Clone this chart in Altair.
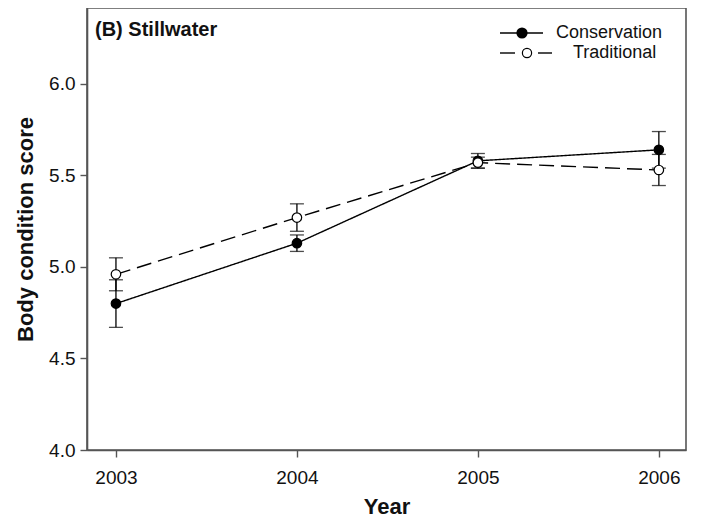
import altair as alt
import pandas as pd

years = [2003, 2004, 2005, 2006]
cons_mean = [4.80, 5.13, 5.58, 5.64]
cons_se = [0.13, 0.045, 0.04, 0.10]
trad_mean = [4.96, 5.27, 5.57, 5.53]
trad_se = [0.09, 0.075, 0.03, 0.085]
groups = ["Conservation", "Traditional"]
y_ticks = [4.0, 4.5, 5.0, 5.5, 6.0]
panel_label = ["(B) Stillwater"]

rows = []
for name, means, ses in [(groups[0], cons_mean, cons_se), (groups[1], trad_mean, trad_se)]:
    for yr, m, s in zip(years, means, ses):
        rows.append({"group": name, "year": yr, "mean": m, "lo": m - s, "hi": m + s})
df = pd.DataFrame(rows)

W, H = 599, 442
xs = alt.Scale(domain=[2002.84, 2006.15], nice=False, zero=False)
ys = alt.Scale(domain=[4.0, 6.415], nice=False, zero=False)

X = alt.X("year:Q", scale=xs,
          axis=alt.Axis(values=years, format="d", title="Year", labelPadding=11, titlePadding=9))
Y_axis = alt.Axis(values=y_ticks, format=".1f", title="Body condition score",
                  labelPadding=5, titlePadding=11)

base = alt.Chart(df)

err = base.mark_rule(color="black", strokeWidth=1.3).encode(
    x=X, y=alt.Y("lo:Q", scale=ys, axis=Y_axis), y2="hi:Q")
cap_lo = base.mark_tick(color="black", orient="horizontal", size=14, thickness=1.3).encode(
    x=X, y=alt.Y("lo:Q", scale=ys))
cap_hi = base.mark_tick(color="black", orient="horizontal", size=14, thickness=1.3).encode(
    x=X, y=alt.Y("hi:Q", scale=ys))

lines = base.mark_line(color="black", strokeWidth=1.4).encode(
    x=X, y=alt.Y("mean:Q", scale=ys),
    strokeDash=alt.StrokeDash("group:N", scale=alt.Scale(domain=groups, range=[[1, 0], [15, 7]]),
                              legend=None),
    detail="group:N")

pts = base.mark_point(shape="circle", size=90, filled=True, stroke="black",
                      strokeWidth=1.2, opacity=1).encode(
    x=X, y=alt.Y("mean:Q", scale=ys),
    fill=alt.Fill("group:N", scale=alt.Scale(domain=groups, range=["black", "white"]), legend=None))

# Legend (top-right, inside)
one = alt.Chart(pd.DataFrame({"t": [groups[0]]}))
two = alt.Chart(pd.DataFrame({"t": [groups[1]]}))
lg1_line = one.mark_rule(color="black", strokeWidth=1.4).encode(
    x=alt.value(413), x2=alt.value(456), y=alt.value(25))
lg1_pt = one.mark_point(shape="circle", size=85, filled=True, fill="black", stroke="black",
                        opacity=1).encode(x=alt.value(435), y=alt.value(25))
lg1_txt = one.mark_text(align="left", baseline="middle", fontSize=18,
                        font="Liberation Sans", color="#111").encode(
    text="t:N", x=alt.value(469), y=alt.value(25))
lg2_a = two.mark_rule(color="black", strokeWidth=1.4).encode(
    x=alt.value(413), x2=alt.value(428), y=alt.value(45))
lg2_b = two.mark_rule(color="black", strokeWidth=1.4).encode(
    x=alt.value(451), x2=alt.value(465), y=alt.value(45))
lg2_pt = two.mark_point(shape="circle", size=85, filled=True, fill="white", stroke="black",
                        strokeWidth=1.2, opacity=1).encode(x=alt.value(440), y=alt.value(45))
lg2_txt = two.mark_text(align="left", baseline="middle", fontSize=18,
                        font="Liberation Sans", color="#111").encode(
    text="t:N", x=alt.value(486), y=alt.value(45))

panel = alt.Chart(pd.DataFrame({"t": panel_label})).mark_text(
    align="left", baseline="middle", fontSize=20, fontWeight="bold",
    font="Liberation Sans", color="#111").encode(text="t:N", x=alt.value(8), y=alt.value(22))

chart = alt.layer(
    err, cap_lo, cap_hi, lines, pts,
    lg1_line, lg1_pt, lg1_txt, lg2_a, lg2_b, lg2_pt, lg2_txt, panel
).properties(
    width=W, height=H,
    autosize=alt.AutoSizeParams(type="none"),
    padding={"left": 79, "top": 0, "right": 7, "bottom": 67},
    background="white",
).configure_view(
    stroke="#555", strokeWidth=1.6
).configure_axis(
    grid=False, domainColor="#555", domainWidth=1.6, tickColor="#555", tickWidth=1.4,
    tickSize=7, labelFont="Liberation Sans", labelFontSize=19, labelColor="#111",
    titleFont="Liberation Sans", titleFontSize=22, titleFontWeight="bold", titleColor="#111"
)

chart.save("out.html", embed_options={"renderer": "svg", "actions": False})
